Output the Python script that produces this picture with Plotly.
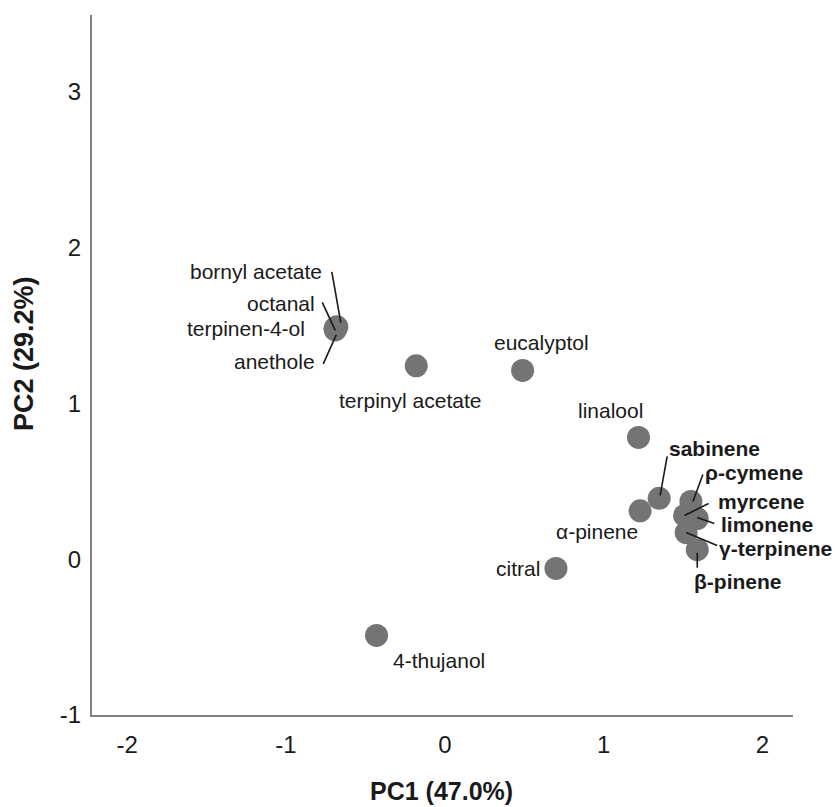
import plotly.graph_objects as go

# ---- data ----
compounds = ["bornyl acetate", "octanal", "terpinen-4-ol", "anethole",
             "terpinyl acetate", "eucalyptol", "linalool", "sabinene",
             "α-pinene", "ρ-cymene", "myrcene", "limonene", "γ-terpinene",
             "β-pinene", "citral", "4-thujanol"]
pc1 = [-0.68, -0.69, -0.69, -0.69, -0.18, 0.49, 1.22, 1.35,
       1.23, 1.55, 1.51, 1.59, 1.52, 1.59, 0.70, -0.43]
pc2 = [1.49, 1.48, 1.48, 1.47, 1.24, 1.21, 0.78, 0.39,
       0.31, 0.37, 0.28, 0.26, 0.17, 0.06, -0.06, -0.49]
bold_labels = ["sabinene", "ρ-cymene", "myrcene", "limonene", "γ-terpinene", "β-pinene"]
x_ticks = [-2, -1, 0, 1, 2]
y_ticks = [-1, 0, 1, 2, 3]
x_title = "PC1 (47.0%)"
y_title = "PC2 (29.2%)"

# ---- label placement (pixel offsets from marker centre; y downwards) ----
label_style = {
    "bornyl acetate":   ("right", -13, -55, (-5, -55, 4, -4)),
    "octanal":          ("right", -18, -25, (-13, -26, 0, 2)),
    "terpinen-4-ol":    ("right", -28, 0, None),
    "anethole":         ("right", -18, 32, (-12, 34, 1, 5)),
    "terpinyl acetate": ("center", -6, 35, None),
    "eucalyptol":       ("center", 19, -28, None),
    "linalool":         ("center", -28, -27, None),
    "sabinene":         ("left", 8, -50, (8, -42, 1, -3)),
    "α-pinene":         ("right", 0, 21, None),
    "ρ-cymene":         ("left", 12, -29, (12, -27, 2, 0)),
    "myrcene":          ("left", 31, -14, (24, -12, 0, 0)),
    "limonene":         ("left", 22, 6, (17, 5, 0, -1)),
    "γ-terpinene":      ("left", 31, 16, (31, 13, 0, 0)),
    "β-pinene":         ("left", -5, 32, (0, 18, 0, 3)),
    "citral":           ("right", -14, 0, None),
    "4-thujanol":       ("left", 14, 25, None),
}

W, H = 835, 807
ML, MR, MT, MB = 92, 42, 15, 92
FONT = "Liberation Sans, Arial, sans-serif"

fig = go.Figure()
fig.add_trace(go.Scatter(
    x=pc1, y=pc2, mode="markers",
    marker=dict(size=23, color="#747474", line=dict(width=0)),
    hoverinfo="text", text=compounds, showlegend=False,
))

annotations = []
shapes = []
for name, x, y in zip(compounds, pc1, pc2):
    anchor, dx, dy, line = label_style[name]
    is_bold = name in bold_labels
    annotations.append(dict(
        x=x, y=y, xref="x", yref="y",
        text=f"<b>{name}</b>" if is_bold else name,
        showarrow=False, xanchor=anchor, yanchor="middle",
        xshift=dx, yshift=-dy,
        font=dict(family=FONT, size=21, color="#1a1a1a"),
    ))
    if line is not None:
        x0, y0, x1, y1 = line
        shapes.append(dict(
            type="line", xref="x", yref="y",
            xsizemode="pixel", ysizemode="pixel",
            xanchor=x, yanchor=y,
            x0=x0, y0=-y0, x1=x1, y1=-y1,
            line=dict(color="#1a1a1a", width=1.6),
        ))

plot_h = H - MT - MB
plot_w = W - ML - MR
annotations.append(dict(
    text=f"<b>{x_title}</b>", xref="paper", yref="paper",
    x=(441 - ML) / plot_w, y=-(791 - (H - MB)) / plot_h,
    xanchor="center", yanchor="middle", showarrow=False,
    font=dict(family=FONT, size=25, color="#1a1a1a"),
))
annotations.append(dict(
    text=f"<b>{y_title}</b>", xref="paper", yref="paper",
    x=-(ML - 24) / plot_w, y=((H - MB) - 354) / plot_h,
    xanchor="center", yanchor="middle", showarrow=False, textangle=-90,
    font=dict(family=FONT, size=27, color="#1a1a1a"),
))

axis_common = dict(
    showgrid=False, zeroline=False, showline=True,
    linecolor="#808080", linewidth=2, ticks="",
    tickfont=dict(family=FONT, size=24, color="#1a1a1a"),
)

fig.update_layout(
    width=W, height=H,
    margin=dict(l=ML, r=MR, t=MT, b=MB),
    paper_bgcolor="white", plot_bgcolor="white",
    xaxis=dict(range=[-2.222, 2.193], tickvals=x_ticks,
               ticktext=[str(v) for v in x_ticks], ticklabelstandoff=7, **axis_common),
    yaxis=dict(range=[-1.0, 3.49], tickvals=y_ticks,
               ticktext=[str(v) for v in y_ticks], ticklabelstandoff=4, **axis_common),
    annotations=annotations, shapes=shapes,
    font=dict(family=FONT),
)

fig.write_html(
    "out.html",
    config={"displayModeBar": False},
    post_script="document.body.style.margin='0';document.body.style.overflow='hidden';",
)
